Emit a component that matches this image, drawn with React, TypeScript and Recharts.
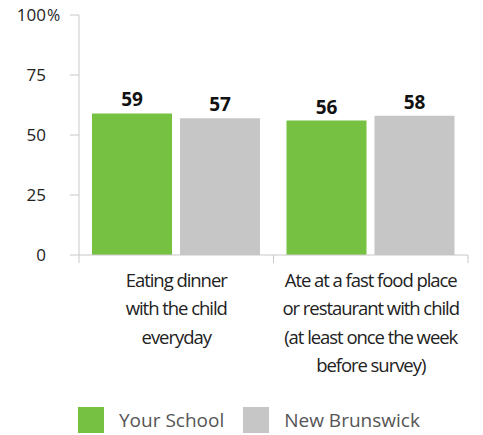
import { Bar, BarChart, LabelList, Legend, XAxis, YAxis } from "recharts";

const categories = ["dinner", "fastfood"];
const categoryLines = [
  ["Eating dinner", "with the child", "everyday"],
  ["Ate at a fast food place", "or restaurant with child", "(at least once the week", "before survey)"],
];
const yourSchool = [59, 56];
const newBrunswick = [57, 58];
const yTicks = [0, 25, 50, 75, 100];
const seriesNames = ["Your School", "New Brunswick"];

const GREEN = "#77c142";
const GRAY = "#c6c6c6";
const AXIS = "#c8c8c8";
const FONT = "'Open Sans', Lato, sans-serif";

const data = categories.map((c, i) => ({
  key: c,
  school: yourSchool[i],
  nb: newBrunswick[i],
}));

function YTick({ x, y, payload }: any) {
  return (
    <g>
      <text x={x} y={y} dy={6} textAnchor="end" fill="#222" fontSize={17} fontFamily={FONT}>
        {payload.value}
      </text>
      {payload.value === 100 && (
        <text x={x + 1} y={y} dy={6} textAnchor="start" fill="#222" fontSize={16} fontFamily={FONT}>
          %
        </text>
      )}
    </g>
  );
}

function XTick({ x, y, payload, index }: any) {
  const lines = categoryLines[index] ?? [];
  const half = payload.offset ?? 0;
  return (
    <g>
      <line x1={x - half} x2={x - half} y1={y - 8} y2={y} stroke={AXIS} />
      <line x1={x + half} x2={x + half} y1={y - 8} y2={y} stroke={AXIS} />
      <text x={x} y={y} textAnchor="middle" fill="#222" fontSize={18.5} letterSpacing={-1.05} fontFamily={FONT}>
        {lines.map((l: string, i: number) => (
          <tspan key={i} x={x} dy={i === 0 ? 23.5 : 28.5}>
            {l}
          </tspan>
        ))}
      </text>
    </g>
  );
}

function LegendContent() {
  const colors = [GREEN, GRAY];
  return (
    <div style={{ display: "flex", alignItems: "center", height: 30, paddingLeft: 78 }}>
      {seriesNames.map((n, i) => (
        <div key={n} style={{ display: "flex", alignItems: "center", marginRight: 19 }}>
          <span style={{ width: 26, height: 26, background: colors[i], display: "inline-block" }} />
          <span style={{ marginLeft: 15, fontFamily: FONT, fontSize: 19, color: "#555" }}>{n}</span>
        </div>
      ))}
    </div>
  );
}

export default function App() {
  return (
    <div style={{ position: "absolute", left: 0, top: 0 }}>
      <BarChart
        width={483}
        height={435}
        data={data}
        margin={{ top: 15, right: 15, left: 0, bottom: 0 }}
        barCategoryGap={13}
        barGap={8}
      >
        <YAxis
          domain={[0, 100]}
          ticks={yTicks}
          width={79}
          axisLine={{ stroke: AXIS }}
          tickLine={{ stroke: AXIS }}
          tickSize={9}
          tickMargin={24}
          tick={<YTick />}
          interval={0}
        />
        <XAxis
          dataKey="key"
          height={150}
          axisLine={{ stroke: AXIS }}
          tickLine={false}
          tickSize={8}
          tickMargin={0}
          tick={<XTick />}
          interval={0}
        />
        <Legend verticalAlign="bottom" content={<LegendContent />} />
        <Bar dataKey="school" name={seriesNames[0]} fill={GREEN} isAnimationActive={false}>
          <LabelList dataKey="school" position="top" offset={7} fill="#111" fontSize={19} fontWeight={700} fontFamily={FONT} />
        </Bar>
        <Bar dataKey="nb" name={seriesNames[1]} fill={GRAY} isAnimationActive={false}>
          <LabelList dataKey="nb" position="top" offset={7} fill="#111" fontSize={19} fontWeight={700} fontFamily={FONT} />
        </Bar>
      </BarChart>
    </div>
  );
}
